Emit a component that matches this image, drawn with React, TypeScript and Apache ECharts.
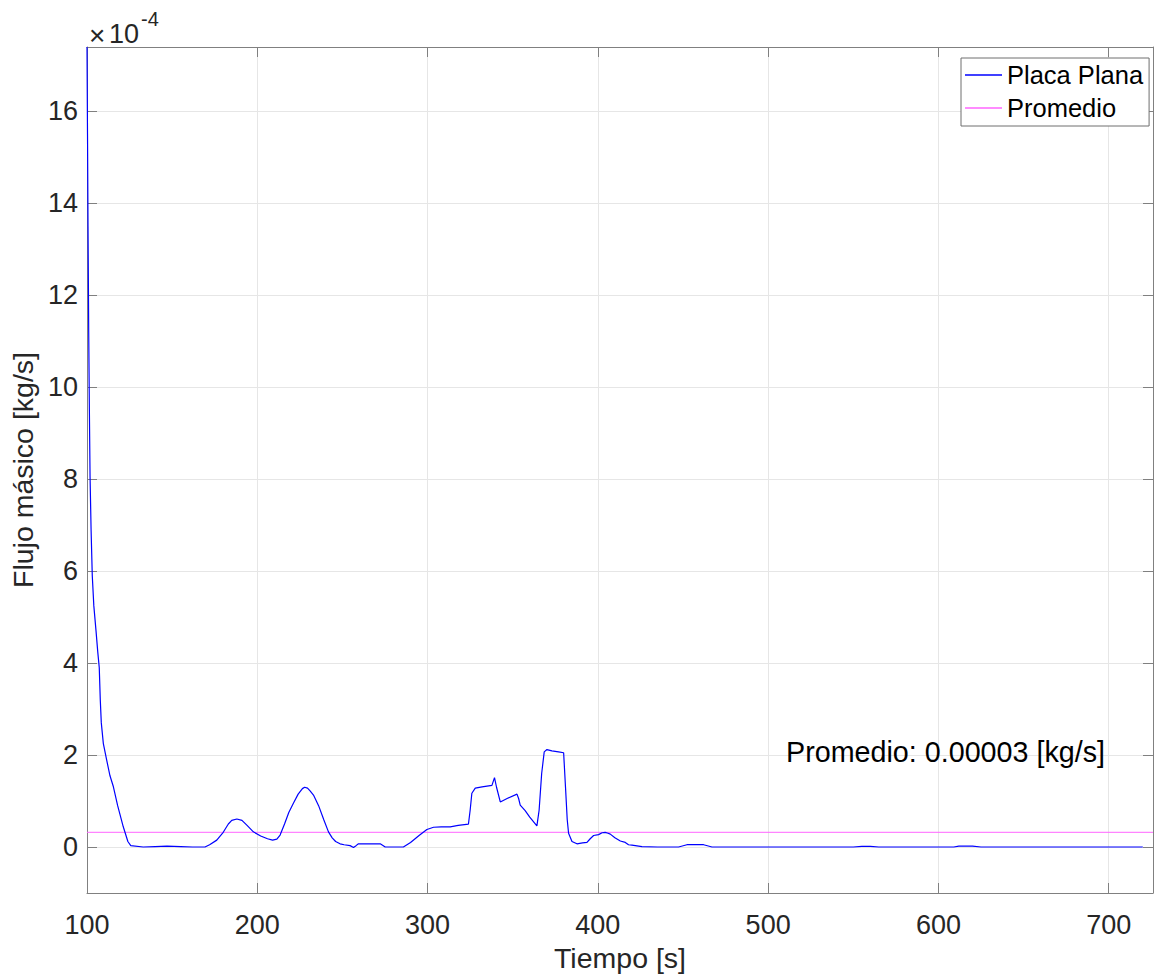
import React, { useEffect, useRef } from "react";
import * as echarts from "echarts";

// Time [s]
const tiempo: number[] = [
  100, 100.3, 100.6, 101, 101.4, 101.8, 102.4, 103.1, 104, 105.3, 106.3, 107.2, 107.8, 108.4, 109.6,
  111.5, 113.5, 115.5, 118, 121.3, 124, 125.7, 133, 140, 147, 155, 162, 169.3, 172, 176.2, 180, 183,
  185, 188, 191, 194, 197.7, 202, 206, 209, 211.5, 213.4, 216, 218.5, 221.2, 224, 226.5, 227.8, 229.5,
  231, 233, 236, 239, 241.8, 244, 246, 248.6, 251, 254.5, 256.5, 258, 259.4, 265, 272.2, 274, 275.1,
  285.8, 290, 295, 299.6, 303.5, 308, 313.3, 318, 324, 325, 326, 328, 332, 337.8, 339.3, 340.5, 342.7,
  347, 352.5, 353.5, 354.4, 357.3, 360, 364.2, 365.5, 367, 368.5, 370.1, 373, 376.9, 379.9, 381, 382,
  382.8, 384.8, 387.7, 391, 393.6, 395.5, 397.5, 400.4, 402.5, 404.3, 406, 407.3, 410, 413.2, 416.1,
  418, 420, 425.9, 435, 447.4, 452.3, 457, 462.1, 467, 480, 500, 530, 550, 555, 560, 565, 600, 609,
  612, 620, 625, 660, 690, 720,
];

// Mass flow, in units of 1e-4 kg/s
const flujo: number[] = [
  17.4, 15.5, 13.5, 11.2, 9.5, 8.05, 6.9, 5.9, 5.25, 4.7, 4.25, 3.9, 3.2, 2.7, 2.25,
  1.9, 1.55, 1.31, 0.9, 0.44, 0.12, 0.03, 0.0, 0.01, 0.02, 0.01, 0.0, 0.0, 0.05, 0.15, 0.32, 0.5,
  0.58, 0.61, 0.58, 0.47, 0.33, 0.24, 0.18, 0.15, 0.17, 0.26, 0.5, 0.75, 0.95, 1.15, 1.27, 1.3, 1.28,
  1.22, 1.13, 0.9, 0.6, 0.33, 0.2, 0.12, 0.07, 0.05, 0.03, -0.01, 0.03, 0.07, 0.07, 0.07, 0.03, 0.0,
  0.0, 0.1, 0.25, 0.38, 0.43, 0.44, 0.44, 0.47, 0.5, 0.8, 1.17, 1.28, 1.31, 1.34, 1.51, 1.3, 0.98,
  1.06, 1.15, 1.05, 0.91, 0.79, 0.65, 0.46, 0.8, 1.6, 2.07, 2.12, 2.09, 2.07, 2.05, 1.3, 0.6,
  0.3, 0.12, 0.07, 0.09, 0.1, 0.18, 0.25, 0.27, 0.31, 0.32, 0.3, 0.28, 0.2, 0.13, 0.1,
  0.05, 0.04, 0.01, 0.0, 0.0, 0.05, 0.055, 0.05, 0.0, 0.0, 0.0, 0.0, 0.0, 0.012, 0.012, 0.0, 0.0, 0.0,
  0.02, 0.02, 0.0, 0.0, 0.0, 0.0,
];

// Average, in units of 1e-4 kg/s
const promedio = 0.32;
const promedioTexto = "Promedio: 0.00003 [kg/s]";
const promedioTextoPos: [number, number] = [510.5, 2.07];

const xTicks: number[] = [100, 200, 300, 400, 500, 600, 700];
const yTicks: number[] = [0, 2, 4, 6, 8, 10, 12, 14, 16];

const FONT = "'Liberation Sans', Arial, Helvetica, sans-serif";
const AX = "#808080";
const GRID = "#e6e6e6";
const TXT = "#262626";

export default function App() {
  const ref = useRef<HTMLDivElement>(null);
  useEffect(() => {
    if (!ref.current) return;
    const chart = echarts.init(ref.current, undefined, { renderer: "svg" });
    const xMin = 100, xMax = 726, yMin = -1, yMax = 17.4;
    const lineData = tiempo.map((t, i) => [t, flujo[i]]);
    const avgData = [[xMin, promedio], [xMax, promedio]];

    const baseX = {
      type: "value" as const,
      min: xMin,
      max: xMax,
      interval: 100,
      axisLine: { show: true, onZero: false, lineStyle: { color: AX, width: 1 } },
      axisTick: { show: true, inside: true, length: 10, customValues: xTicks, lineStyle: { color: AX, width: 1 } },
    };
    const baseY = {
      type: "value" as const,
      min: yMin,
      max: yMax,
      axisLine: { show: true, onZero: false, lineStyle: { color: AX, width: 1 } },
      axisTick: { show: true, inside: true, length: 10, customValues: yTicks, lineStyle: { color: AX, width: 1 } },
    };

    chart.setOption({
      animation: false,
      backgroundColor: "#ffffff",
      grid: { left: 87, top: 47, right: 1, bottom: 86, containLabel: false },
      xAxis: [
        {
          ...baseX,
          position: "bottom",
          name: "Tiempo [s]",
          nameLocation: "middle",
          nameGap: 50,
          nameTextStyle: { fontFamily: FONT, fontSize: 28.5, color: TXT },
          axisLabel: {
            show: true,
            margin: 18,
            fontFamily: FONT,
            fontSize: 27,
            color: TXT,
            customValues: xTicks,
            formatter: (v: number) => String(v),
          },
          splitLine: { show: true, lineStyle: { color: GRID, width: 1 } },
        },
        {
          ...baseX,
          position: "top",
          axisLabel: { show: false },
          splitLine: { show: false },
        },
      ],
      yAxis: [
        {
          ...baseY,
          position: "left",
          name: "Flujo másico [kg/s]",
          nameLocation: "middle",
          nameGap: 46,
          nameTextStyle: { fontFamily: FONT, fontSize: 28.5, color: TXT },
          axisLabel: {
            show: true,
            margin: 9,
            fontFamily: FONT,
            fontSize: 27,
            color: TXT,
            customValues: yTicks,
            formatter: (v: number) => String(v),
          },
          splitLine: { show: true, lineStyle: { color: GRID, width: 1 } },
        },
        {
          ...baseY,
          position: "right",
          axisLabel: { show: false },
          splitLine: { show: false },
        },
      ],
      legend: {
        show: true,
        orient: "vertical",
        left: 961,
        top: 58,
        padding: [2, 6, 3, 4],
        itemGap: 3,
        itemWidth: 37,
        itemHeight: 1.5,
        icon: "rect",
        backgroundColor: "#ffffff",
        borderColor: "#6e6e6e",
        borderWidth: 1,
        borderRadius: 0,
        textStyle: { fontFamily: FONT, fontSize: 25.5, color: "#000000", lineHeight: 30 },
        data: ["Placa Plana", "Promedio"],
      },
      graphic: [
        {
          type: "text",
          left: 89,
          top: 21,
          style: { text: "×", font: `28px ${FONT}`, fill: TXT },
        },
        {
          type: "text",
          left: 109,
          top: 20,
          style: { text: "10", font: `27px ${FONT}`, fill: TXT },
        },
        {
          type: "text",
          left: 141,
          top: 9,
          style: { text: "-4", font: `20px ${FONT}`, fill: TXT },
        },
      ],
      series: [
        {
          name: "Placa Plana",
          type: "line",
          data: lineData,
          symbol: "none",
          smooth: false,
          clip: true,
          lineStyle: { color: "#0000ff", width: 1.2 },
          itemStyle: { color: "#0000ff" },
          z: 3,
          markPoint: {
            silent: true,
            symbol: "circle",
            symbolSize: 0,
            data: [
              {
                coord: promedioTextoPos,
                label: {
                  show: true,
                  position: "right",
                  distance: 0,
                  formatter: promedioTexto,
                  fontFamily: FONT,
                  fontSize: 28.7,
                  color: "#000000",
                },
              },
            ],
          },
        },
        {
          name: "Promedio",
          type: "line",
          data: avgData,
          symbol: "none",
          lineStyle: { color: "#ff66ff", width: 1 },
          itemStyle: { color: "#ff66ff" },
          z: 2,
        },
      ],
    });
    return () => chart.dispose();
  }, []);

  return (
    <div
      ref={ref}
      style={{ position: "fixed", left: 0, top: 0, width: 1154, height: 979, background: "#fff" }}
    />
  );
}
